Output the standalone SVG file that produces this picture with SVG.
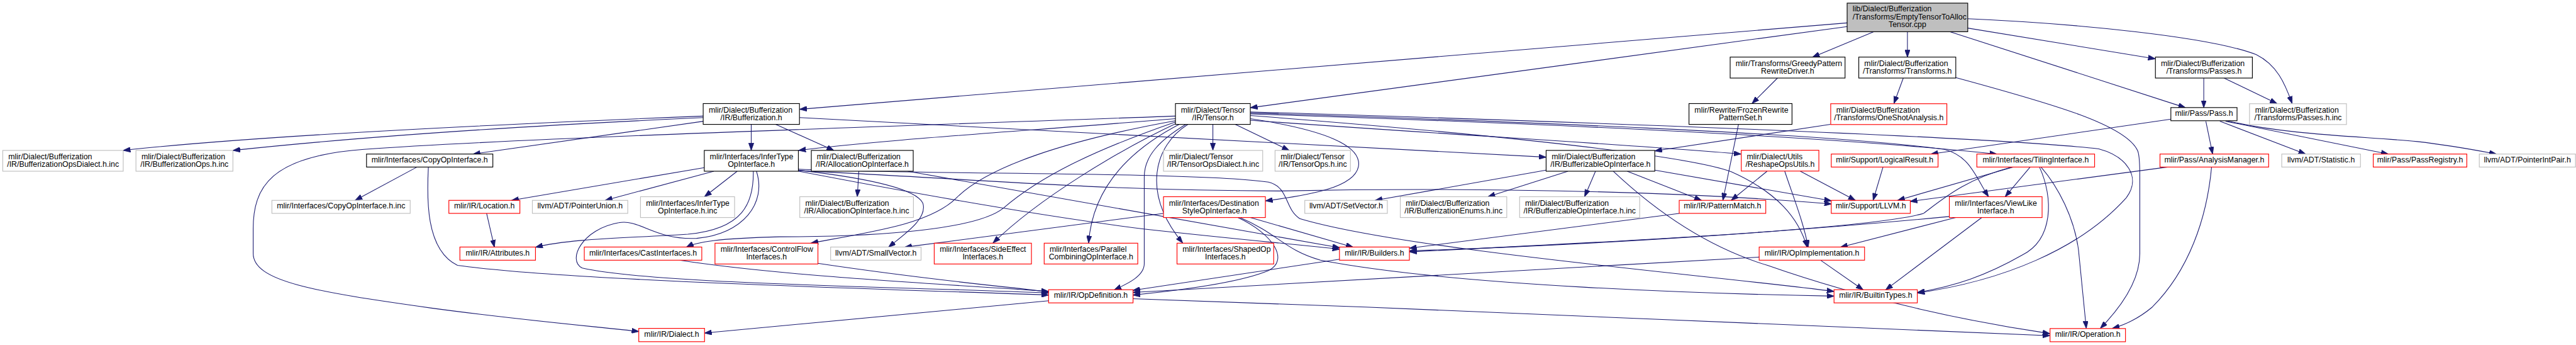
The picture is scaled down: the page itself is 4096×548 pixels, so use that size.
<svg xmlns="http://www.w3.org/2000/svg" width="4096" height="548" viewBox="0 0 4096 548">
<style>
.e{fill:none;stroke:#191970;stroke-width:1.3;marker-end:url(#ah)}
.b{fill:#fff;stroke:#000;stroke-width:1.4}
.r{fill:#fff;stroke:#ff0000;stroke-width:1.4}
.g{fill:#fff;stroke:#bfbfbf;stroke-width:1.4}
.main{fill:#bfbfbf;stroke:#000;stroke-width:1.4}
text{font-family:"Liberation Sans",Arial,sans-serif;font-size:15px;fill:#000}
.s{text-anchor:start}
.m{text-anchor:middle}
</style>
<defs>
<marker id="ah" viewBox="0 0 14 10" refX="14" refY="5" markerWidth="14" markerHeight="10" markerUnits="userSpaceOnUse" orient="auto">
<path d="M0,0 L14,5 L0,10 z" fill="#191970" stroke="#191970"/>
</marker>
</defs>
<rect x="0" y="0" width="4096" height="548" fill="#fff"/>
<g transform="scale(0.82664)">
<g id="edges">
<path class="e" d="M3553,44 L1538,210"/>
<path class="e" d="M3553,51 L2405,207"/>
<path class="e" d="M3604,61 L3486,110"/>
<path class="e" d="M3669,61 L3669,110"/>
<path class="e" d="M3785,54 L4146,113"/>
<path class="e" d="M3751,61 L4204,207"/>
<path class="e" d="M3785,36 C3990,45 4250,70 4340,105 C4380,125 4395,160 4409,199"/>
<path class="e" d="M1353,223 C1000,237 500,260 237,289"/>
<path class="e" d="M1353,226 C1000,242 700,262 448,289"/>
<path class="e" d="M1353,233 L910,296"/>
<path class="e" d="M1445,239 L1445,289"/>
<path class="e" d="M1492,239 L1604,289"/>
<path class="e" d="M1538,226 L2974,302"/>
<path class="e" d="M802,321 L683,385"/>
<path class="e" d="M824,321 C821,380 818,480 880,510 C1100,540 1700,555 2017,567"/>
<path class="e" d="M1355,322 L984,385"/>
<path class="e" d="M1373,329 L1164,385"/>
<path class="e" d="M1418,329 L1355,378"/>
<path class="e" d="M1449,329 C1450,390 1430,440 1323,450 C1200,458 1100,458 1030,475"/>
<path class="e" d="M1455,329 C1475,390 1430,450 1340,458 C1260,462 1230,420 1190,428 C1120,440 1090,500 1120,515 C1250,545 1700,550 2017,563"/>
<path class="e" d="M1536,327 C1650,340 1760,360 1775,390 C1785,420 1740,450 1709,475"/>
<path class="e" d="M1536,325 C1800,336 2300,330 2440,350 C2480,360 2470,400 2500,420 C2700,480 3300,530 3528,560"/>
<path class="e" d="M1536,328 C1900,345 2100,366 2460,367 C2800,360 3200,365 3523,392"/>
<path class="e" d="M1536,329 C1750,370 2000,415 2200,440 C2400,462 2500,470 2577,479"/>
<path class="e" d="M1652,329 L1649,378"/>
<path class="e" d="M1746,329 L2577,476"/>
<path class="e" d="M936,410 L951,475"/>
<path class="e" d="M1307,500 C1500,530 1800,545 2017,560"/>
<path class="e" d="M1573,506 C1800,540 1950,552 2017,561"/>
<path class="e" d="M2261,223 C1800,240 1000,265 700,287 C520,300 487,360 487,440 L487,487 C487,540 600,560 830,592 C1000,615 1150,628 1229,637"/>
<path class="e" d="M2261,228 C2000,250 1700,268 1536,289"/>
<path class="e" d="M2261,232 C2050,270 1900,320 1840,380 C1790,430 1680,445 1560,467"/>
<path class="e" d="M2262,234 C2100,290 2000,340 1930,400 C1880,440 1700,455 1500,455 C1380,458 1340,465 1320,475"/>
<path class="e" d="M2265,236 C2150,290 2000,380 1910,467"/>
<path class="e" d="M2270,238 C2150,300 2100,380 2094,467"/>
<path class="e" d="M2281,239 C2230,270 2201,300 2201,340 L2201,507 C2201,530 2170,545 2143,557"/>
<path class="e" d="M2285,239 C2220,280 2195,370 2275,467"/>
<path class="e" d="M2333,239 L2333,289"/>
<path class="e" d="M2376,239 L2480,289"/>
<path class="e" d="M2405,228 C2550,250 2620,280 2613,320 C2605,360 2520,375 2434,386"/>
<path class="e" d="M2405,231 C2800,260 3100,275 3349,296"/>
<path class="e" d="M2405,219 C2900,235 3500,260 3841,296"/>
<path class="e" d="M2405,217 C2900,233 3500,255 3740,287 C3790,300 3800,340 3825,378"/>
<path class="e" d="M2405,215 C2900,230 3800,260 4037,286 C4090,300 4120,340 4090,380 C4000,480 3850,540 3688,563"/>
<path class="e" d="M2405,222 C2900,260 3250,300 3330,330 C3420,370 3460,420 3476,475"/>
<path class="e" d="M2238,410 L1740,475"/>
<path class="e" d="M2381,418 C2450,450 2480,500 2440,520 C2380,545 2250,560 2179,567"/>
<path class="e" d="M2385,418 C2460,450 2470,480 2540,500 C2800,550 3300,565 3528,569"/>
<path class="e" d="M2405,418 L2603,475"/>
<path class="e" d="M2974,327 L2645,385"/>
<path class="e" d="M3016,329 L2862,378"/>
<path class="e" d="M3069,329 L3048,378"/>
<path class="e" d="M3130,329 L3273,385"/>
<path class="e" d="M3183,327 L3523,386"/>
<path class="e" d="M3103,329 C3200,420 3300,480 3400,510 C3600,580 3800,620 3943,641"/>
<path class="e" d="M3344,239 L3314,385"/>
<path class="e" d="M3419,150 L3370,199"/>
<path class="e" d="M3661,150 L3643,199"/>
<path class="e" d="M3762,149 C3950,200 4090,240 4112,290 C4116,300 4116,320 4116,340 L4116,487 C4116,540 4080,590 4040,631"/>
<path class="e" d="M3521,239 L3183,290"/>
<path class="e" d="M3399,329 L3330,385"/>
<path class="e" d="M3433,329 C3450,380 3470,430 3478,475"/>
<path class="e" d="M3463,329 L3569,385"/>
<path class="e" d="M3622,321 L3603,385"/>
<path class="e" d="M3873,321 L3650,385"/>
<path class="e" d="M3870,321 C3780,345 3740,380 3700,410 C3600,440 3100,465 2711,484"/>
<path class="e" d="M3905,321 L3857,378"/>
<path class="e" d="M3923,321 C3950,380 3950,460 3890,490 C3820,530 3760,550 3688,562"/>
<path class="e" d="M3926,321 C3960,360 3990,420 3998,480 C4005,550 4010,600 4013,631"/>
<path class="e" d="M3750,416 C3500,440 3100,470 2711,482"/>
<path class="e" d="M3762,418 L3540,475"/>
<path class="e" d="M3812,418 L3627,557"/>
<path class="e" d="M3384,494 L2179,562"/>
<path class="e" d="M3502,500 L3584,557"/>
<path class="e" d="M2577,498 L2179,558"/>
<path class="e" d="M3230,410 L2711,477"/>
<path class="e" d="M2017,578 L1355,640"/>
<path class="e" d="M2179,574 C2800,595 3500,625 3943,645"/>
<path class="e" d="M4239,150 L4239,207"/>
<path class="e" d="M4278,150 L4380,199"/>
<path class="e" d="M4243,233 L4256,296"/>
<path class="e" d="M4270,233 L4435,296"/>
<path class="e" d="M4281,233 L4594,296"/>
<path class="e" d="M4284,232 C4400,260 4550,262 4650,272 C4720,280 4770,290 4802,296"/>
<path class="e" d="M4176,229 L3714,296"/>
<path class="e" d="M4169,321 L3674,387"/>
<path class="e" d="M4254,321 C4245,420 4210,520 4140,590 C4110,615 4085,625 4063,631"/>
</g>
<g id="n0"><rect class="main" x="3553" y="6" width="232" height="55"/><text class="s" x="3563.6" y="22">lib/Dialect/Bufferization</text><text class="s" x="3563.6" y="37">/Transforms/EmptyTensorToAlloc</text><text class="m" x="3669" y="51.5">Tensor.cpp</text></g>
<g id="n1"><rect class="b" x="1352.6" y="199" width="185.2" height="40"/><text class="s" x="1363.2" y="216">mlir/Dialect/Bufferization</text><text class="m" x="1445.2" y="230.5">/IR/Bufferization.h</text></g>
<g id="n2"><rect class="g" x="5.3" y="289" width="231.7" height="40"/><text class="s" x="16" y="306">mlir/Dialect/Bufferization</text><text class="m" x="121.2" y="320.5">/IR/BufferizationOpsDialect.h.inc</text></g>
<g id="n3"><rect class="g" x="261.5" y="289" width="186.5" height="40"/><text class="s" x="272.1" y="306">mlir/Dialect/Bufferization</text><text class="m" x="354.75" y="320.5">/IR/BufferizationOps.h.inc</text></g>
<g id="n4"><rect class="b" x="705" y="296" width="243" height="25"/><text class="m" x="826.5" y="312">mlir/Interfaces/CopyOpInterface.h</text></g>
<g id="n5"><rect class="g" x="523" y="385" width="266" height="25"/><text class="m" x="656" y="401">mlir/Interfaces/CopyOpInterface.h.inc</text></g>
<g id="n6"><rect class="b" x="1354.7" y="289" width="181" height="40"/><text class="s" x="1365.3" y="306">mlir/Interfaces/InferType</text><text class="m" x="1445.2" y="320.5">OpInterface.h</text></g>
<g id="n7"><rect class="b" x="1560.6" y="289" width="196" height="40"/><text class="s" x="1571.2" y="306">mlir/Dialect/Bufferization</text><text class="m" x="1658.6" y="320.5">/IR/AllocationOpInterface.h</text></g>
<g id="n8"><rect class="r" x="863.4" y="385" width="136.6" height="25"/><text class="m" x="931.7" y="401">mlir/IR/Location.h</text></g>
<g id="n9"><rect class="g" x="1024" y="385" width="183.5" height="25"/><text class="m" x="1115.75" y="401">llvm/ADT/PointerUnion.h</text></g>
<g id="n10"><rect class="g" x="1232" y="378" width="181" height="40"/><text class="s" x="1242.6" y="395">mlir/Interfaces/InferType</text><text class="m" x="1322.5" y="409.5">OpInterface.h.inc</text></g>
<g id="n11"><rect class="g" x="1538.4" y="378" width="218.6" height="40"/><text class="s" x="1549" y="395">mlir/Dialect/Bufferization</text><text class="m" x="1647.7" y="409.5">/IR/AllocationOpInterface.h.inc</text></g>
<g id="n12"><rect class="r" x="884.6" y="474.7" width="145.4" height="25.3"/><text class="m" x="957.3" y="490.7">mlir/IR/Attributes.h</text></g>
<g id="n13"><rect class="r" x="1123.9" y="474.7" width="226" height="25.3"/><text class="m" x="1237" y="490.7">mlir/Interfaces/CastInterfaces.h</text></g>
<g id="n14"><rect class="r" x="1375.3" y="467.3" width="198" height="40"/><text class="s" x="1386" y="484.3">mlir/Interfaces/ControlFlow</text><text class="m" x="1474.3" y="498.8">Interfaces.h</text></g>
<g id="n15"><rect class="g" x="1597.7" y="474.7" width="174" height="25.3"/><text class="m" x="1684.7" y="490.7">llvm/ADT/SmallVector.h</text></g>
<g id="n16"><rect class="r" x="1228.7" y="631" width="126.5" height="25.6"/><text class="m" x="1292" y="647">mlir/IR/Dialect.h</text></g>
<g id="n17"><rect class="b" x="2261" y="199" width="144" height="40"/><text class="s" x="2271.6" y="216">mlir/Dialect/Tensor</text><text class="m" x="2333" y="230.5">/IR/Tensor.h</text></g>
<g id="n18"><rect class="g" x="2238" y="289" width="190.8" height="40"/><text class="s" x="2248.6" y="306">mlir/Dialect/Tensor</text><text class="m" x="2333.4" y="320.5">/IR/TensorOpsDialect.h.inc</text></g>
<g id="n19"><rect class="g" x="2452.6" y="289" width="145" height="40"/><text class="s" x="2463.2" y="306">mlir/Dialect/Tensor</text><text class="m" x="2525.1" y="320.5">/IR/TensorOps.h.inc</text></g>
<g id="n20"><rect class="r" x="2238" y="378" width="196" height="40"/><text class="s" x="2248.6" y="395">mlir/Interfaces/Destination</text><text class="m" x="2336" y="409.5">StyleOpInterface.h</text></g>
<g id="n21"><rect class="r" x="1797" y="467.3" width="187" height="40"/><text class="s" x="1807.6" y="484.3">mlir/Interfaces/SideEffect</text><text class="m" x="1890.5" y="498.8">Interfaces.h</text></g>
<g id="n22"><rect class="r" x="2008.5" y="467.3" width="180" height="40"/><text class="s" x="2019" y="484.3">mlir/Interfaces/Parallel</text><text class="m" x="2098.5" y="498.8">CombiningOpInterface.h</text></g>
<g id="n23"><rect class="r" x="2264" y="467.3" width="186" height="40"/><text class="s" x="2274.6" y="484.3">mlir/Interfaces/ShapedOp</text><text class="m" x="2357" y="498.8">Interfaces.h</text></g>
<g id="n24"><rect class="r" x="2017" y="556.7" width="162.4" height="25.3"/><text class="m" x="2098.2" y="572.7">mlir/IR/OpDefinition.h</text></g>
<g id="n25"><rect class="b" x="2974" y="289" width="209" height="40"/><text class="s" x="2984.6" y="306">mlir/Dialect/Bufferization</text><text class="m" x="3078.5" y="320.5">/IR/BufferizableOpInterface.h</text></g>
<g id="n26"><rect class="b" x="3248.8" y="199" width="198.2" height="40"/><text class="s" x="3259.4" y="216">mlir/Rewrite/FrozenRewrite</text><text class="m" x="3347.9" y="230.5">PatternSet.h</text></g>
<g id="n27"><rect class="g" x="2509.8" y="385" width="158.8" height="25"/><text class="m" x="2589.2" y="401">llvm/ADT/SetVector.h</text></g>
<g id="n28"><rect class="g" x="2693.5" y="378" width="204.8" height="40"/><text class="s" x="2704.1" y="395">mlir/Dialect/Bufferization</text><text class="m" x="2795.9" y="409.5">/IR/BufferizationEnums.h.inc</text></g>
<g id="n29"><rect class="g" x="2923" y="378" width="231" height="40"/><text class="s" x="2933.6" y="395">mlir/Dialect/Bufferization</text><text class="m" x="3038.5" y="409.5">/IR/BufferizableOpInterface.h.inc</text></g>
<g id="n30"><rect class="r" x="3230" y="385" width="166.5" height="25"/><text class="m" x="3313.25" y="401">mlir/IR/PatternMatch.h</text></g>
<g id="n31"><rect class="r" x="2576.5" y="474.7" width="134.5" height="25.3"/><text class="m" x="2643.75" y="490.7">mlir/IR/Builders.h</text></g>
<g id="n32"><rect class="b" x="3328" y="109.7" width="221" height="40.3"/><text class="s" x="3338.6" y="126.7">mlir/Transforms/GreedyPattern</text><text class="m" x="3438.5" y="141.2">RewriteDriver.h</text></g>
<g id="n33"><rect class="b" x="3575.4" y="109.7" width="186.6" height="40.3"/><text class="s" x="3586" y="126.7">mlir/Dialect/Bufferization</text><text class="m" x="3668.7" y="141.2">/Transforms/Transforms.h</text></g>
<g id="n34"><rect class="r" x="3521.4" y="199.3" width="223.4" height="40"/><text class="s" x="3532" y="216.3">mlir/Dialect/Bufferization</text><text class="m" x="3633.1" y="230.8">/Transforms/OneShotAnalysis.h</text></g>
<g id="n35"><rect class="r" x="3349.4" y="288.7" width="149.2" height="40"/><text class="s" x="3360" y="305.7">mlir/Dialect/Utils</text><text class="m" x="3424" y="320.2">/ReshapeOpsUtils.h</text></g>
<g id="n36"><rect class="r" x="3522.5" y="296" width="205.4" height="25"/><text class="m" x="3625.2" y="312">mlir/Support/LogicalResult.h</text></g>
<g id="n37"><rect class="r" x="3802.5" y="296" width="226.5" height="25"/><text class="m" x="3915.75" y="312">mlir/Interfaces/TilingInterface.h</text></g>
<g id="n38"><rect class="r" x="3522.5" y="385" width="152" height="25"/><text class="m" x="3598.5" y="401">mlir/Support/LLVM.h</text></g>
<g id="n39"><rect class="r" x="3749.6" y="378" width="178.4" height="40"/><text class="s" x="3760.2" y="395">mlir/Interfaces/ViewLike</text><text class="m" x="3838.8" y="409.5">Interface.h</text></g>
<g id="n40"><rect class="r" x="3383.8" y="474.7" width="202.7" height="25.3"/><text class="m" x="3485.2" y="490.7">mlir/IR/OpImplementation.h</text></g>
<g id="n41"><rect class="r" x="3527.8" y="556.7" width="160.2" height="25.3"/><text class="m" x="3607.9" y="572.7">mlir/IR/BuiltinTypes.h</text></g>
<g id="n42"><rect class="r" x="3943.3" y="631.3" width="145.1" height="25.4"/><text class="m" x="4015.9" y="647.3">mlir/IR/Operation.h</text></g>
<g id="n43"><rect class="b" x="4146" y="109.7" width="186.5" height="40.3"/><text class="s" x="4156.6" y="126.7">mlir/Dialect/Bufferization</text><text class="m" x="4239.25" y="141.2">/Transforms/Passes.h</text></g>
<g id="n44"><rect class="b" x="4175.7" y="206.7" width="127.3" height="25.3"/><text class="m" x="4239.4" y="222.7">mlir/Pass/Pass.h</text></g>
<g id="n45"><rect class="g" x="4327" y="199.3" width="186.5" height="40"/><text class="s" x="4337.6" y="216.3">mlir/Dialect/Bufferization</text><text class="m" x="4420.25" y="230.8">/Transforms/Passes.h.inc</text></g>
<g id="n46"><rect class="r" x="4154.8" y="296" width="209" height="25"/><text class="m" x="4259.3" y="312">mlir/Pass/AnalysisManager.h</text></g>
<g id="n47"><rect class="g" x="4389" y="296" width="151.4" height="25"/><text class="m" x="4464.7" y="312">llvm/ADT/Statistic.h</text></g>
<g id="n48"><rect class="r" x="4565" y="296" width="180" height="25"/><text class="m" x="4655" y="312">mlir/Pass/PassRegistry.h</text></g>
<g id="n49"><rect class="g" x="4769" y="296" width="185" height="25"/><text class="m" x="4861.5" y="312">llvm/ADT/PointerIntPair.h</text></g>
</g>
</svg>
